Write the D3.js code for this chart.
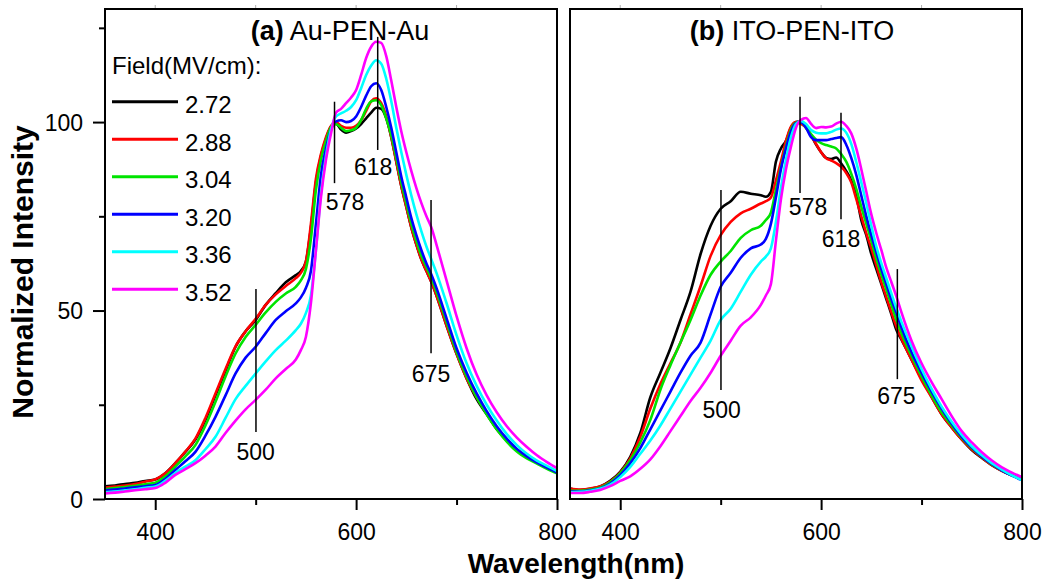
<!DOCTYPE html>
<html><head><meta charset="utf-8">
<script src="https://cdn.jsdelivr.net/npm/d3@7"></script>
<style>
body{margin:0;background:#fff}
svg{display:block}
text{font-family:Arial,"Liberation Sans",Helvetica,sans-serif;fill:#000}
</style>
</head><body>
<svg id="chart" width="1049" height="583"></svg>
<script>
// ---------- data ----------
const wavelengths = [350,360,370,380,390,400,410,420,430,440,450,460,470,480,490,500,510,520,530,540,
  545,550,555,560,565,570,575,580,585,590,595,600,605,610,615,620,625,630,635,640,645,650,655,660,665,670,675,680,
  690,700,710,720,730,740,750,760,770,780,790,800];

const fieldLabels = ["2.72","2.88","3.04","3.20","3.36","3.52"];
const fieldColors = ["#000000","#ff0000","#00e400","#0000ff","#00ffff","#ff00ff"];

// (a) Au-PEN-Au
const a272 = [3.4,3.6,4.0,4.3,4.8,5.2,6.8,9.5,12.5,15.8,21.0,27.5,34.0,40.4,44.5,47.5,51.5,54.6,57.5,59.4,
  60.5,63,72,84,91,95.5,98.8,99.6,98,97.2,97.6,98.3,99.5,101,102.5,103.8,103.5,101,96,89.5,83,77.5,72,67.5,63.5,60.5,57.5,54,
  46,38.5,32,26.5,22.5,18.5,15.5,13,11.2,9.8,8.5,7.2];
const a288 = [3.0,3.3,3.6,4.0,4.6,5.2,6.8,9.5,12.6,16.0,21.5,28.0,34.5,40.5,44.5,47.8,51.5,54.3,56.5,58.6,
  60,63,73,85,91.5,96,99,100,99,98.5,98.5,99,100.5,103,105.5,106.3,105,101.5,96,89.5,83,77.5,72,67.5,63.5,60.5,57.5,54,
  46,38.5,32,27,22.8,18.8,15.8,13.2,11.3,9.8,8.4,7.0];
const a304 = [2.6,2.9,3.2,3.5,3.9,4.3,6.0,8.6,11.3,14.3,19.5,25.8,32.5,38.6,43.0,46.2,49.5,52.3,54.5,56.3,
  58,61,69,82,90,95,98.6,99.5,98.5,97.6,97.8,98.5,100.5,103.5,105.5,105.8,104.5,101,96.5,90.5,84,78.5,73,68.5,64.5,61.5,58.5,55,
  47,39,32.5,27,22.5,18.5,15.2,12.6,10.8,9.4,8.0,6.8];
const a320 = [2.3,2.5,2.8,3.1,3.4,3.7,5.3,7.7,10.0,12.5,16.8,21.8,27.5,33.3,37.5,40.4,44.0,47.5,49.8,51.9,
  53.5,56,60.5,73,86,93,98,100.2,100.5,100,100.3,101.5,104,107,109.5,110.3,108.5,104,98.5,92,85.5,80,74.5,70,66,62.5,59.5,56,
  48,40,33.5,28,23.3,19.3,16,13.3,11.3,9.7,8.3,7.0];
const a336 = [1.8,2.0,2.3,2.6,3.0,3.3,4.8,6.9,8.6,10.3,13.2,16.5,21.5,26.5,30.0,33.3,36.5,39.5,42.0,44.8,
  46.5,49.3,54,66,81,91,98,101.5,102.3,103,104,105.8,109,112.5,115,116.4,115.5,111.5,105.5,98.5,92,86,80.5,75.5,71,67,63.5,60,
  52,43.5,36,30,25,20.8,17.2,14.3,12.0,10.2,8.8,7.4];
const a352 = [1.5,1.7,2.0,2.3,2.6,2.9,4.3,6.4,7.9,9.5,11.5,13.9,17.5,20.8,23.8,26.3,29.0,32.0,34.5,37.0,
  39.5,43,52,66,80,90,97,102.5,103.5,105,106.5,108.5,112.5,117,120,121.3,121,117.5,111,104,97.5,92,87,82.5,78.5,75,72,67.5,
  58,48.5,40,33,27.5,23,19.3,16.3,13.8,11.6,9.8,8.2];

// (b) ITO-PEN-ITO
const b272 = [2.8,2.4,2.7,3.3,4.8,7.2,11.2,17.5,27.0,33.5,40.0,47.5,55.0,65.0,72.5,77.0,79.0,81.5,81.0,80.6,
  80.2,81.5,89.5,93,95,98.5,100,100.2,98.5,96.5,94,92,90.5,90.2,90.6,89,87,84.5,80.5,74,70,65,61,57,53,49,44.8,42.3,
  37,32,27.1,22.5,19,15.8,13,10.9,9,7.5,6.3,5.5];
const b288 = [2.8,2.5,2.8,3.3,4.6,7.0,10.8,16.5,24.0,30.5,36.0,41.5,49.0,56.5,64.5,70.0,73.5,75.8,77.0,78.4,
  79,80,84.5,89.5,95,98.8,100,99.5,98.5,96.5,94.2,92,90.4,89.8,89.1,88.1,86.5,84,79.6,75,70.5,66.5,62,57.5,53.5,49.5,45.7,42.5,
  37,31.5,27,22.5,19,15.8,13.2,11,9,7.5,6.3,5.3];
const b304 = [2.2,2.2,2.5,3.0,4.4,6.8,10.3,15.0,21.0,29.0,35.5,41.5,47.5,54.0,59.5,63.0,65.8,69.3,71.3,72.5,
  74,76,82,88,93.5,98,99.8,100,98.5,96.8,95.3,94.4,93.9,93.5,93,91.5,89.5,86.3,82.3,77.5,73,68.5,63.7,59.5,55.5,51.5,47.5,44,
  38,32.5,27.5,23,19.5,16.2,13.5,11.2,9.2,7.6,6.3,5.2];
const b320 = [2.0,2.0,2.3,2.8,4.1,6.3,9.5,13.5,18.5,23.5,28.5,33.5,38.0,41.5,49.0,56.3,60.0,64.0,66.5,67.5,
  69,73,80,87.5,93,97.5,99.7,100,98.5,96,95.2,95.2,95.2,95.5,95.8,96,94,90.5,86,80.5,75,70,65.5,61,57,53,49.3,45.5,
  39,33.5,28.5,24,20,16.5,13.7,11.3,9.3,7.6,6.2,5.0];
const b336 = [1.8,1.9,2.2,2.7,3.8,5.8,8.5,12.0,15.5,19.5,24.0,28.5,33.0,37.5,42.0,47.5,50.5,55.0,59.5,63.0,
  64.3,66.5,73.5,82.5,90,96,99.5,100.3,99.5,97.9,97.2,97,97,97.4,98,98.3,97.2,94.2,89.4,84,78.5,72.5,67,62.5,58.5,54.5,50.6,47,
  40.5,34.5,29.2,24.5,20.5,17,14,11.6,9.5,7.8,6.3,5.0];
const b352 = [1.6,1.6,1.9,2.4,3.4,4.8,6.0,8.0,10.5,14.0,18.0,22.0,26.0,29.5,33.5,38.0,42.0,46.0,48.2,51.5,
  54,57,68.5,79.5,87.5,93.5,98.5,100.6,101.1,99.5,98.4,98.7,98.6,98.8,99.6,100.1,99,97,93,87.5,81.5,75.5,70.5,66,61.3,57.5,53.7,49.5,
  42,36,31,26.5,22,18,15,12.4,10.2,8.4,7,5.8];

const panelTitles = [{bold:"(a)", rest:" Au-PEN-Au"}, {bold:"(b)", rest:" ITO-PEN-ITO"}];
const yMajorTicks = [0, 50, 100];
const yMinorTicks = [25, 75, 125];
const xMajorTicks = [400, 600, 800];
const xMinorTicks = [500, 700];

// annotations: [line wavelength, top intensity, bottom intensity, label, label wavelength, label baseline intensity]
const annotA = [
  [578.5, 105.4, 83.8, "578", 589, 76.7],
  [621.5, 122.6, 92.6, "618", 617, 85.9],
  [674.6, 79.3, 38.7, "675", 674.6, 31.0],
  [500.3, 55.7, 17.8, "500", 500, 10.3]
];
const annotB = [
  [500.3, 82.0, 28.9, "500", 501, 21.5],
  [579.0, 106.7, 81.2, "578", 587, 75.3],
  [619.8, 102.5, 74.2, "618", 619.8, 66.8],
  [675.9, 61.0, 31.8, "675", 675, 25.2]
];

// ---------- drawing ----------
const svg = d3.select("#chart");
const y = d3.scaleLinear().domain([0, 130]).range([499, 9]);
const panels = [
  {x: d3.scaleLinear().domain([350, 800]).range([105, 557]), series:[a272,a288,a304,a320,a336,a352], annot: annotA, title: panelTitles[0], yLabels:true, id:"A"},
  {x: d3.scaleLinear().domain([350, 800]).range([570, 1022]), series:[b272,b288,b304,b320,b336,b352], annot: annotB, title: panelTitles[1], yLabels:false, id:"B"}
];

panels.forEach(p => {
  const [x0, x1] = p.x.range();
  const [y1, y0] = y.range();
  const g = svg.append("g");

  svg.append("clipPath").attr("id", "clip" + p.id)
    .append("rect").attr("x", x0).attr("y", y0).attr("width", x1 - x0).attr("height", y1 - y0);

  // faint top ticks
  g.selectAll(".tt").data(xMajorTicks.concat(xMinorTicks).filter(v => v < 800)).enter().append("line")
    .attr("x1", d => p.x(d)).attr("x2", d => p.x(d)).attr("y1", y0 - 4).attr("y2", y0)
    .attr("stroke", "#b0b0b0").attr("stroke-width", 1);

  // curves
  const line = d3.line().x(d => p.x(d[0])).y(d => y(d[1])).curve(d3.curveMonotoneX);
  const cg = g.append("g").attr("clip-path", `url(#clip${p.id})`);
  p.series.forEach((s, i) => {
    cg.append("path")
      .datum(wavelengths.map((w, k) => [w, s[k]]))
      .attr("d", line).attr("fill", "none")
      .attr("stroke", fieldColors[i]).attr("stroke-width", 2.6)
      .attr("stroke-linejoin", "round");
  });

  // annotations
  p.annot.forEach(a => {
    g.append("line").attr("x1", p.x(a[0])).attr("x2", p.x(a[0]))
      .attr("y1", y(a[1])).attr("y2", y(a[2]))
      .attr("stroke", "#000").attr("stroke-width", 1.5);
    g.append("text").attr("x", p.x(a[4])).attr("y", y(a[5]))
      .attr("text-anchor", "middle").attr("font-size", 23).text(a[3]);
  });

  // frame
  g.append("rect").attr("x", x0).attr("y", y0).attr("width", x1 - x0).attr("height", y1 - y0)
    .attr("fill", "none").attr("stroke", "#000").attr("stroke-width", 2);

  // x axis
  const xMaj = g.append("g").attr("transform", `translate(0,${y1})`)
    .call(d3.axisBottom(p.x).tickValues(xMajorTicks).tickSize(11).tickFormat(d3.format("d")));
  const xMin = g.append("g").attr("transform", `translate(0,${y1})`)
    .call(d3.axisBottom(p.x).tickValues(xMinorTicks).tickSize(6).tickFormat(""));
  [xMaj, xMin].forEach(ax => {
    ax.select(".domain").remove();
    ax.selectAll(".tick line").attr("stroke", "#000").attr("stroke-width", 2);
  });
  xMaj.selectAll(".tick text").attr("y", 41).attr("dy", 0)
    .attr("font-size", 23).attr("font-family", "Arial, 'Liberation Sans', sans-serif").attr("fill", "#000");

  // y axis (left panel only)
  if (p.yLabels) {
    const yMaj = g.append("g").attr("transform", `translate(${x0},0)`)
      .call(d3.axisLeft(y).tickValues(yMajorTicks).tickSize(12).tickFormat(d3.format("d")));
    const yMin = g.append("g").attr("transform", `translate(${x0},0)`)
      .call(d3.axisLeft(y).tickValues(yMinorTicks).tickSize(6).tickFormat(""));
    [yMaj, yMin].forEach(ax => {
      ax.select(".domain").remove();
      ax.selectAll(".tick line").attr("stroke", "#000").attr("stroke-width", 2);
    });
    yMaj.selectAll(".tick text").attr("x", -22).attr("dy", "0.35em")
      .attr("font-size", 23).attr("font-family", "Arial, 'Liberation Sans', sans-serif").attr("fill", "#000");
  }

  // title
  const t = g.append("text").attr("x", (x0 + x1) / 2 + (p.id === "A" ? 9 : -4)).attr("y", 40)
    .attr("text-anchor", "middle").attr("font-size", 27);
  t.append("tspan").attr("font-weight", "bold").text(p.title.bold);
  t.append("tspan").text(p.title.rest);
});

// legend
const lg = svg.append("g");
lg.append("text").attr("x", 112).attr("y", 74).attr("font-size", 24).text("Field(MV/cm):");
fieldLabels.forEach((lab, i) => {
  const ly = 101.7 + i * 37.5;
  lg.append("line").attr("x1", 112).attr("x2", 178).attr("y1", ly).attr("y2", ly)
    .attr("stroke", fieldColors[i]).attr("stroke-width", 3);
  lg.append("text").attr("x", 185).attr("y", ly + 11.5).attr("font-size", 24).text(lab);
});

// axis titles
svg.append("text").attr("transform", "translate(33,272) rotate(-90)")
  .attr("text-anchor", "middle").attr("font-size", 30).attr("font-weight", "bold")
  .text("Normalized Intensity");
svg.append("text").attr("x", 576).attr("y", 573)
  .attr("text-anchor", "middle").attr("font-size", 28).attr("font-weight", "bold")
  .text("Wavelength(nm)");
</script>
</body></html>
